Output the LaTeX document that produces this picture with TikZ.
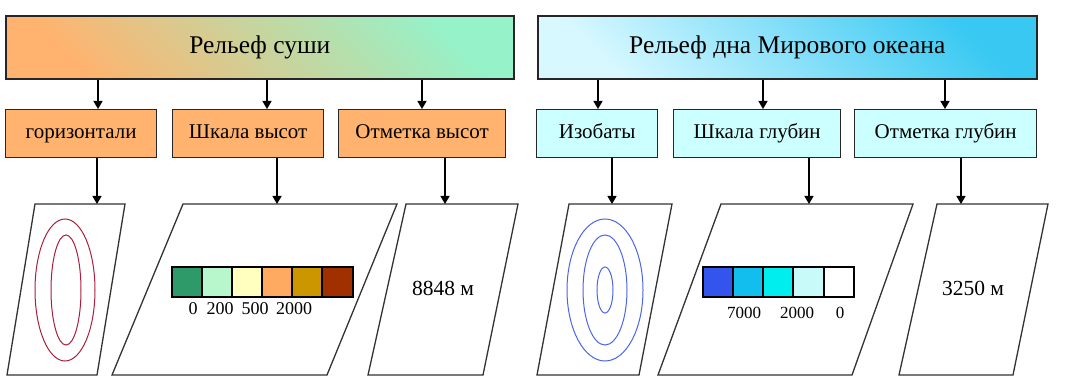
\documentclass[tikz,border=0pt]{standalone}
\usepackage{fontspec}
\setmainfont{Liberation Serif}
\usetikzlibrary{arrows.meta,calc}

\definecolor{landorange}{HTML}{FFB36E}
\definecolor{landmint}{HTML}{96F2C8}
\definecolor{seapale}{HTML}{CCFFFF}
\definecolor{seadeep}{HTML}{38C8F2}
\definecolor{seatop}{HTML}{D8F8FF}
\definecolor{contourred}{HTML}{A8203C}
\definecolor{contourblue}{HTML}{4A66E6}

\begin{document}
\begin{tikzpicture}[x=1pt,y=-1pt,
    topbox/.style={draw=black!85, line width=1.6pt, anchor=north west,
      minimum height=63pt, inner sep=0pt, text height=17pt, text depth=5pt,
      font=\fontsize{25.5}{30}\selectfont},
    landbox/.style={draw=black!85, line width=1.3pt, fill=landorange, anchor=north west,
      minimum height=48pt, inner sep=0pt, text height=14pt, text depth=4pt,
      font=\fontsize{21}{24}\selectfont},
    seabox/.style={landbox, fill=seapale},
    arr/.style={line width=1.3pt, -{Triangle[width=9pt,length=8pt]}},
    plate/.style={draw=black!80, line width=1.3pt, line join=miter},
    cell/.style={draw=black, line width=1.3pt},
    tick/.style={font=\fontsize{18}{20}\selectfont, inner sep=0pt}]

    \useasboundingbox (0,0) rectangle (1071,382);

    % headings
    \node[topbox, minimum width=508pt, top color=landmint, bottom color=landorange,
      shading angle=-45] (land) at (5,15) {Рельеф суши};
    \node[topbox, minimum width=499pt, top color=seadeep, bottom color=seatop,
      shading angle=-45] (sea) at (537,15) {Рельеф дна Мирового океана};

    % second row
    \node[landbox, minimum width=151pt] (hor) at (5,109) {горизонтали};
    \node[landbox, minimum width=151pt] (hscale) at (172,109) {Шкала высот};
    \node[landbox, minimum width=167pt] (hmark) at (338,109) {Отметка высот};
    \node[seabox, minimum width=121pt] (iso) at (536,109) {Изобаты};
    \node[seabox, minimum width=167pt] (dscale) at (673,109) {Шкала глубин};
    \node[seabox, minimum width=182pt] (dmark) at (854,109) {Отметка глубин};

    % plates
    \draw[plate] (35,204) -- (125,204) -- (97,375) -- (7,375) -- cycle;
    \draw[plate] (183,204) -- (397,204) -- (327,375) -- (112,375) -- cycle;
    \draw[plate] (406,204) -- (518,204) -- (483,375) -- (368,375) -- cycle;
    \draw[plate] (569,204) -- (672,204) -- (639,375) -- (537,375) -- cycle;
    \draw[plate] (721,204) -- (913,204) -- (852,375) -- (658,375) -- cycle;
    \draw[plate] (937,204) -- (1048,204) -- (1013,375) -- (899,375) -- cycle;

    \coordinate (p1) at (97,204);
    \coordinate (p2) at (277,204);
    \coordinate (p3) at (445,204);
    \coordinate (p4) at (612,204);
    \coordinate (p5) at (809,204);
    \coordinate (p6) at (961,204);

    \coordinate (t1) at (98,0);
    \coordinate (t2) at (267,0);
    \coordinate (t3) at (422,0);
    \coordinate (t4) at (598,0);
    \coordinate (t5) at (763,0);
    \coordinate (t6) at (945,0);

    % arrows
    \draw[arr] (land.south -| t1) -- (hor.north -| t1);
    \draw[arr] (land.south -| t2) -- (hscale.north -| t2);
    \draw[arr] (land.south -| t3) -- (hmark.north -| t3);
    \draw[arr] (sea.south -| t4) -- (iso.north -| t4);
    \draw[arr] (sea.south -| t5) -- (dscale.north -| t5);
    \draw[arr] (sea.south -| t6) -- (dmark.north -| t6);

    \draw[arr] (hor.south -| p1) -- (p1);
    \draw[arr] (hscale.south -| p2) -- (p2);
    \draw[arr] (hmark.south -| p3) -- (p3);
    \draw[arr] (iso.south -| p4) -- (p4);
    \draw[arr] (dscale.south -| p5) -- (p5);
    \draw[arr] (dmark.south -| p6) -- (p6);

    % contours
    \draw[contourred, line width=1pt] (65,290) ellipse [x radius=30pt, y radius=71pt];
    \draw[contourred, line width=1pt] (66,290) ellipse [x radius=15pt, y radius=55pt];
    \draw[contourblue, line width=1pt] (605,290) ellipse [x radius=38pt, y radius=71pt];
    \draw[contourblue, line width=1pt] (605,290) ellipse [x radius=22pt, y radius=55pt];
    \draw[contourblue, line width=1pt] (605,290) ellipse [x radius=8pt, y radius=23pt];

    % height scale
    \draw[cell, fill={rgb,255:red,46;green,154;blue,106}] (172,267) rectangle (202,297);
    \draw[cell, fill={rgb,255:red,184;green,246;blue,204}] (202,267) rectangle (232,297);
    \draw[cell, fill={rgb,255:red,255;green,255;blue,192}] (232,267) rectangle (262,297);
    \draw[cell, fill={rgb,255:red,255;green,170;blue,96}] (262,267) rectangle (292,297);
    \draw[cell, fill={rgb,255:red,204;green,150;blue,0}] (292,267) rectangle (322,297);
    \draw[cell, fill={rgb,255:red,160;green,48;blue,0}] (322,267) rectangle (353,297);

    \node[tick] (h0) at (193,309) {0};
    \node[tick] (h200) at (220,309) {200};
    \node[tick] (h500) at (255,309) {500};
    \node[tick] (h2000) at (294,309) {2000};

    % depth scale
    \draw[cell, fill={rgb,255:red,51;green,85;blue,238}] (703,267) rectangle (733,297);
    \draw[cell, fill={rgb,255:red,17;green,190;blue,238}] (733,267) rectangle (763,297);
    \draw[cell, fill={rgb,255:red,0;green,238;blue,238}] (763,267) rectangle (793,297);
    \draw[cell, fill={rgb,255:red,200;green,250;blue,250}] (793,267) rectangle (824,297);
    \draw[cell, fill=white] (824,267) rectangle (854,297);

    \node[tick, font=\fontsize{17}{19}\selectfont] (d7000) at (744,313) {7000};
    \node[tick, font=\fontsize{17}{19}\selectfont] (d2000) at (797,313) {2000};
    \node[tick, font=\fontsize{17}{19}\selectfont] (d0) at (840,313) {0};

    % marks
    \node[font=\fontsize{21.5}{24}\selectfont] (h8848) at (443,288) {8848 м};
    \node[font=\fontsize{21.5}{24}\selectfont] (d3250) at (973,288) {3250 м};

\end{tikzpicture}
\end{document}
